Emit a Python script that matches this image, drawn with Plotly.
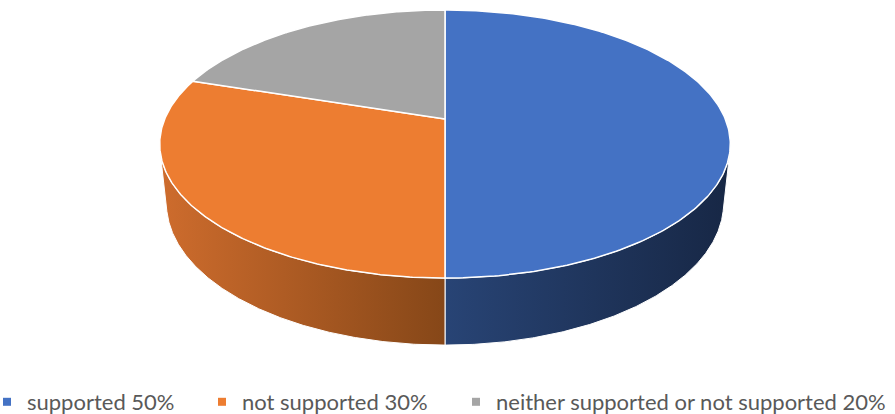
import numpy as np
import plotly.graph_objects as go

# Pie data
labels = ["supported", "not supported", "neither supported or not supported"]
values = [50, 30, 20]
top_colors = ["#4472C4", "#ED7D31", "#A5A5A5"]
side_colors = [["#284475", "#172745"], ["#CE6C2D", "#864718"], ["#8C8C8C", "#5C5C5C"]]

# 3D pie geometry (pixel space of the 895x414 canvas)
W, H_PX = 895, 414
CX, CY = 445.0, 119.0        # projected centre of the top face
FOCAL = 1332.8
DIST = 4.755                 # camera distance in pie radii
TILT = np.radians(27.5)      # elevation of the view
DEPTH = 0.2405               # pie thickness in pie radii


def project(u, y, v):
    """Perspective projection of pie-space points (u right, y up, v toward viewer)."""
    s = y * np.cos(TILT) - v * np.sin(TILT)
    d = y * np.sin(TILT) + v * np.cos(TILT)
    w = DIST - d
    return CX + FOCAL * u / w, CY - FOCAL * s / w


def arc(a0, a1, y, n=240):
    t = np.radians(np.linspace(a0, a1, n))
    return project(np.sin(t), np.full_like(t, y), -np.cos(t))


total = sum(values)
bounds = np.concatenate([[0], np.cumsum(values)]) / total * 360.0

# front part of the wall that faces the camera
v_min = 1.0 / (DIST * np.cos(TILT))
vis_a = np.degrees(np.arccos(-v_min))
vis_b = 360.0 - vis_a

fig = go.Figure()

# side walls
for i in range(len(values)):
    a0, a1 = max(bounds[i], vis_a), min(bounds[i + 1], vis_b)
    if a1 <= a0:
        continue
    xt, yt = arc(a0, a1, 0.0)
    xb, yb = arc(a1, a0, -DEPTH)
    xs = np.concatenate([xt, xb, xt[:1]])
    ys = np.concatenate([yt, yb, yt[:1]])
    fig.add_trace(go.Scatter(
        x=xs, y=ys, mode="lines", fill="toself",
        line=dict(color="white", width=1),
        fillgradient=dict(type="horizontal",
                          colorscale=[[0, side_colors[i][0]], [1, side_colors[i][1]]]),
        hoverinfo="skip", showlegend=False,
    ))

# top faces
for i in range(len(values)):
    xa, ya = arc(bounds[i], bounds[i + 1], 0.0)
    cx, cy = project(0.0, 0.0, 0.0)
    xs = np.concatenate([[cx], xa, [cx]])
    ys = np.concatenate([[cy], ya, [cy]])
    fig.add_trace(go.Scatter(
        x=xs, y=ys, mode="lines", fill="toself",
        fillcolor=top_colors[i], line=dict(color="white", width=1.5),
        hoverinfo="skip", showlegend=False,
    ))

# legend entries, one legend box per entry
legend_names = ["legend", "legend2", "legend3"]
legend_text_x = [28, 243, 497]
for i in range(len(values)):
    fig.add_trace(go.Scatter(
        x=[None], y=[None], mode="markers",
        marker=dict(symbol="square", size=8, color=top_colors[i]),
        name=f"{labels[i]} {values[i]}%", legend=legend_names[i],
    ))

legend_style = dict(orientation="h", xanchor="left", yanchor="middle",
                    y=1 - 402 / H_PX, bgcolor="rgba(0,0,0,0)",
                    font=dict(family="Lato", size=22, color="#595959"))
layout_legends = {}
for name, tx in zip(legend_names, legend_text_x):
    layout_legends[name] = dict(legend_style, x=(tx - 41) / W)

fig.update_layout(
    width=W, height=H_PX,
    margin=dict(l=0, r=0, t=0, b=0, pad=0, autoexpand=False),
    paper_bgcolor="white", plot_bgcolor="white",
    xaxis=dict(range=[0, W], visible=False, fixedrange=True),
    yaxis=dict(range=[H_PX, 0], visible=False, fixedrange=True),
    **layout_legends,
)

fig.write_html("out.html")
